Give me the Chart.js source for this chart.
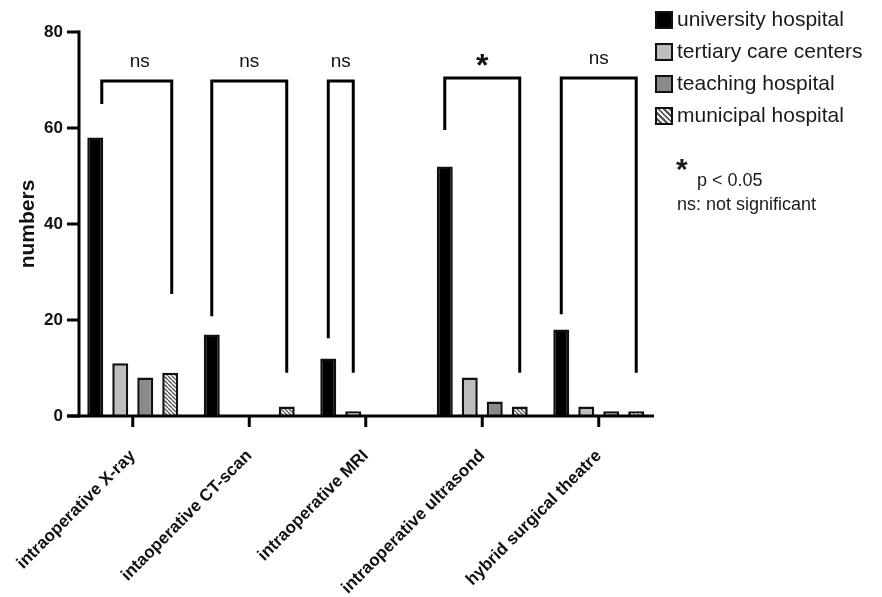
<!DOCTYPE html>
<html>
<head>
<meta charset="utf-8">
<script src="https://cdn.jsdelivr.net/npm/chart.js@4.4.1/dist/chart.umd.min.js"></script>
<style>
  html, body { margin: 0; padding: 0; background: #fff; }
  #wrap { position: relative; width: 882px; height: 597px; overflow: hidden; }
  canvas { position: absolute; left: 0; top: 0; }
  .leg { position: absolute; left: 655px; font: 21px "Liberation Sans", Arial, sans-serif; color: #1a1a1a; white-space: nowrap; height: 24px; line-height: 24px; }
  .leg .box { position: absolute; left: 0; top: 4px; width: 14px; height: 14px; border: 2px solid #111; }
  .leg .txt { position: absolute; left: 22px; top: 0; }
  .note { position: absolute; font: 18px "Liberation Sans", Arial, sans-serif; color: #1a1a1a; white-space: nowrap; }
</style>
</head>
<body>
<div id="wrap">
  <canvas id="c" width="882" height="597"></canvas>
  <div id="legend"></div>
  <div class="note" style="left:676px; top:154px; font-weight:bold; font-size:30px; line-height:30px;">*</div>
  <div class="note" style="left:697px; top:169px; line-height:22px;">p &lt; 0.05</div>
  <div class="note" style="left:677px; top:193px; line-height:22px;">ns: not significant</div>
</div>
<script>
// ---- data ----
const categories = ['intraoperative X-ray', 'intaoperative CT-scan', 'intraoperative MRI', 'intraoperative ultrasond', 'hybrid surgical theatre'];
const seriesNames = ['university hospital', 'tertiary care centers', 'teaching hospital', 'municipal hospital'];
const universityHospital = [58, 17, 12, 52, 18];
const tertiaryCareCenters = [11, 0, 1, 8, 2];
const teachingHospital = [8, 0, 0, 3, 1];
const municipalHospital = [9, 2, 0, 2, 1];
const yTickValues = [0, 20, 40, 60, 80];

// significance brackets (values in axis units)
const bracketLabels = ['ns', 'ns', 'ns', '*', 'ns'];
const bracketTo = [3, 3, 1, 3, 3];          // dataset index of right leg
const bracketTop = [69.8, 69.8, 69.8, 70.4, 70.4];
const bracketLeftEnd = [65, 20.8, 16.2, 59.6, 21.2];
const bracketRightEnd = [25.4, 9, 9, 9, 9];

// ---- styles ----
function hatch(bg, fg) {
  const s = 4;
  const c = document.createElement('canvas');
  c.width = s; c.height = s;
  const x = c.getContext('2d');
  x.fillStyle = bg; x.fillRect(0, 0, s, s);
  x.strokeStyle = fg; x.lineWidth = 1.3;
  for (let k = -1; k <= 1; k++) {
    x.beginPath(); x.moveTo(k * s, 0); x.lineTo(k * s + s, s); x.stroke();
  }
  return document.getElementById('c').getContext('2d').createPattern(c, 'repeat');
}
const fills = ['#000000', '#bdbdbd', '#8a8a8a', hatch('#ffffff', '#555555')];
const legendCss = ['#000', '#bdbdbd', '#8a8a8a', 'repeating-linear-gradient(45deg, #eee 0 2px, #555 2px 4px)'];

// legend html
const legend = document.getElementById('legend');
const legendY = [19, 51, 83, 115];
seriesNames.forEach((n, i) => {
  const d = document.createElement('div');
  d.className = 'leg';
  d.style.top = (legendY[i] - 12) + 'px';
  d.innerHTML = '<span class="box" style="background:' + legendCss[i] + '"></span><span class="txt">' + n + '</span>';
  legend.appendChild(d);
});

const AXIS_X = 79; // y axis line pixel
const axesPlugin = {
  id: 'axesPlugin',
  afterDatasetsDraw(chart) {
    const ctx = chart.ctx;
    const y = chart.scales.y, x = chart.scales.x;
    const ca = chart.chartArea;
    ctx.save();
    ctx.strokeStyle = '#000';
    ctx.lineWidth = 3;
    ctx.lineCap = 'butt';
    // y axis
    ctx.beginPath();
    ctx.moveTo(AXIS_X, y.getPixelForValue(80) - 1.5);
    ctx.lineTo(AXIS_X, y.getPixelForValue(0) + 1.5);
    ctx.stroke();
    yTickValues.forEach(v => {
      const py = y.getPixelForValue(v);
      ctx.beginPath(); ctx.moveTo(67, py); ctx.lineTo(AXIS_X, py); ctx.stroke();
    });
    // x axis
    const p0 = y.getPixelForValue(0);
    ctx.beginPath(); ctx.moveTo(67, p0); ctx.lineTo(ca.right - 3, p0); ctx.stroke();
    categories.forEach((c, i) => {
      const px = x.getPixelForValue(i);
      ctx.beginPath(); ctx.moveTo(px, p0); ctx.lineTo(px, p0 + 11); ctx.stroke();
    });
    // brackets
    categories.forEach((c, i) => {
      const lx = chart.getDatasetMeta(0).data[i].x + (i === 0 ? 6.5 : 0);
      const rx = chart.getDatasetMeta(bracketTo[i]).data[i].x + (i === 0 ? 1.5 : 0);
      const ty = y.getPixelForValue(bracketTop[i]);
      ctx.beginPath();
      ctx.moveTo(lx, y.getPixelForValue(bracketLeftEnd[i]));
      ctx.lineTo(lx, ty);
      ctx.lineTo(rx, ty);
      ctx.lineTo(rx, y.getPixelForValue(bracketRightEnd[i]));
      ctx.stroke();
      const isStar = bracketLabels[i] === '*';
      ctx.fillStyle = '#111';
      ctx.textAlign = 'center';
      ctx.textBaseline = 'middle';
      ctx.font = isStar ? 'bold 32px "Liberation Sans", Arial' : '19px "Liberation Sans", Arial';
      ctx.fillText(bracketLabels[i], (lx + rx) / 2 + (i === 0 ? 3 : 0), ty - (isStar ? 11 : 19));
    });
    ctx.restore();
  }
};

const data = {
  labels: categories,
  datasets: [universityHospital, tertiaryCareCenters, teachingHospital, municipalHospital].map((d, i) => ({
    label: seriesNames[i],
    data: d,
    backgroundColor: fills[i],
    borderColor: '#111',
    borderWidth: 2.5,
    borderSkipped: 'start',
    categoryPercentage: 0.858,
    barPercentage: 0.64
  }))
};

new Chart(document.getElementById('c'), {
  type: 'bar',
  data,
  plugins: [axesPlugin],
  options: {
    responsive: false,
    animation: false,
    devicePixelRatio: 1,
    layout: { padding: { left: 0, right: 225, top: 32, bottom: 0 } },
    plugins: { legend: { display: false }, tooltip: { enabled: false } },
    scales: {
      x: {
        grid: { display: false, drawTicks: false },
        border: { display: false },
        ticks: {
          autoSkip: false, maxRotation: 45, minRotation: 45,
          padding: 30, color: '#111',
          font: { family: '"Liberation Sans", Arial', size: 17, weight: 'bold' }
        },
        afterFit(s) { s.height = 181; s.paddingLeft = 0; s.paddingRight = 0; s.paddingTop = 0; s.paddingBottom = 0; }
      },
      y: {
        min: 0, max: 80,
        grid: { display: false, drawTicks: false },
        border: { display: false },
        ticks: {
          stepSize: 20, padding: 11.5, color: '#111',
          font: { family: '"Liberation Sans", Arial', size: 17, weight: 'bold' }
        },
        title: {
          display: true, text: 'numbers', color: '#111',
          font: { family: '"Liberation Sans", Arial', size: 21, weight: 'bold' },
          padding: { top: 15.4, bottom: 0 }
        },
        afterFit(s) { s.width = 74.5; }
      }
    }
  }
});
</script>
</body>
</html>
